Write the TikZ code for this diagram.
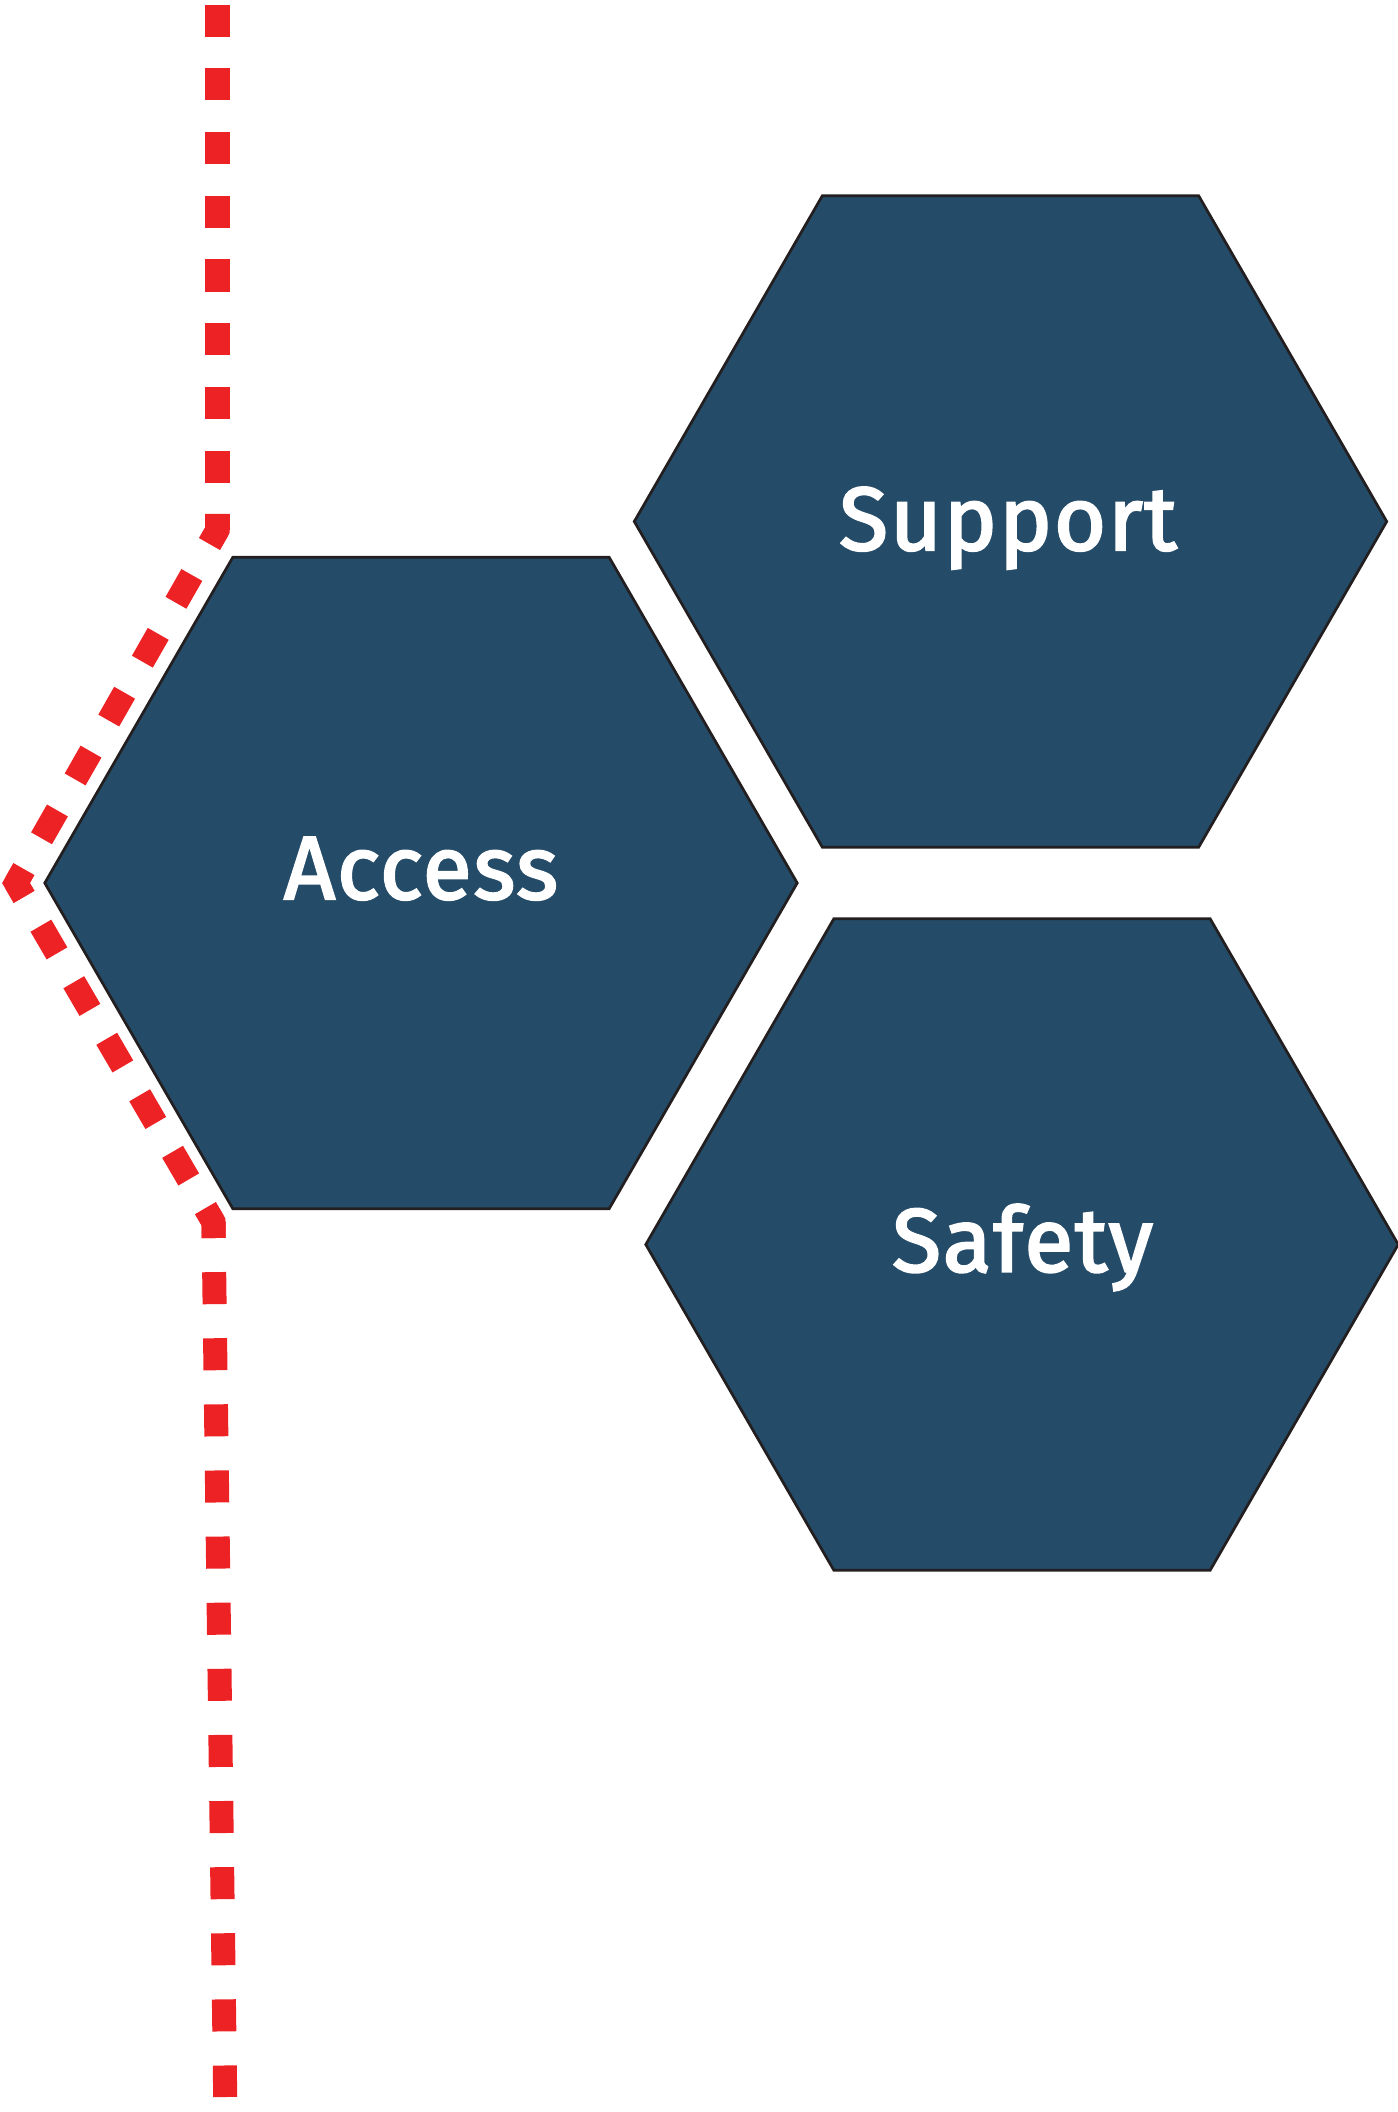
\documentclass[tikz,border=0pt]{standalone}
\usepackage{fontspec}
\setmainfont{Fira Sans}[FakeBold=2.5, LetterSpace=2]
\usetikzlibrary{shapes.geometric,calc}
\definecolor{hexblue}{RGB}{36,75,104}
\definecolor{hexline}{RGB}{35,31,32}
\definecolor{fencered}{RGB}{237,34,36}

\begin{document}
\begin{tikzpicture}[x=0.01cm, y=-0.01cm,
    hexagon/.style={draw=hexline, line width=0.027cm, fill=hexblue,
        regular polygon, regular polygon sides=6, minimum size=7.52cm, inner sep=0pt},
    hexlabel/.style={anchor=base, text=white, inner sep=0pt,
        font=\fontsize{25.5}{30}\selectfont},
    fence/.style={draw=fencered, line width=0.24cm}]
    \useasboundingbox (0,0) rectangle (1398,2112);

    \node[hexagon] (access)  at (421, 883) {};
    \node[hexagon] (support) at (1010.5, 521.5) {};
    \node[hexagon] (safety)  at (1022, 1244.5) {};

    \node[hexlabel] (accesslbl)  at (421, 899) {Access};
    \node[hexlabel] (supportlbl) at (1008, 550) {Support};
    \node[hexlabel] (safetylbl)  at (1022.5, 1271.5) {Safety};

    % red boundary line
    \coordinate (top)    at (217.5, 4.7);
    \coordinate (bend1)  at (217.5, 530);
    \coordinate (tip)    at (16, 883);
    \coordinate (bend2)  at (213.5, 1222);
    \coordinate (bottom) at (225.2, 2097);

    \draw[fence, dash pattern=on 0.32cm off 0.3166cm] (top) -- (bend1);
    \draw[fence, dash pattern=on 0.32cm off 0.3575cm, dash phase=0.16cm] (bend1) -- (tip);
    \draw[fence, dash pattern=on 0.32cm off 0.3338cm, dash phase=0.16cm] (tip) -- (bend2);
    \draw[fence, dash pattern=on 0.32cm off 0.3408cm, dash phase=0.16cm] (bend2) -- (bottom);
    \foreach \a/\b/\c in {top/bend1/tip, bend1/tip/bend2, tip/bend2/bottom}
        \draw[fence] ($(\b)!0.16cm!(\a)$) -- (\b) -- ($(\b)!0.16cm!(\c)$);
\end{tikzpicture}
\end{document}
